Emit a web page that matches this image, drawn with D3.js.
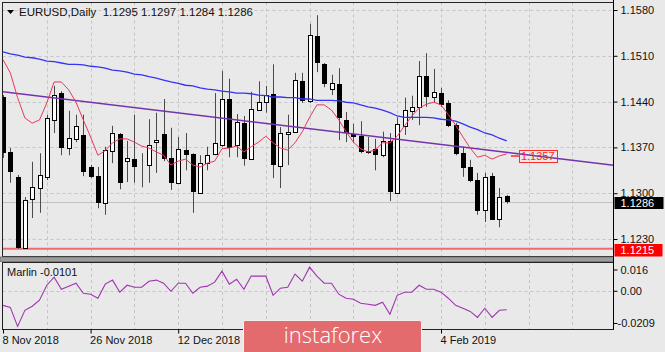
<!DOCTYPE html>
<html>
<head>
<meta charset="utf-8">
<script src="https://cdn.jsdelivr.net/npm/d3@7"></script>
<style>
  html, body { margin: 0; padding: 0; background: #e9e9e9; }
  svg { display: block; font-family: 'Liberation Sans', Arial, sans-serif; }
</style>
</head>
<body>
<div id="chart"></div>
<script>
// EURUSD daily bars, 8 Nov 2018 .. 15 Feb 2019
const opens = [1.1447, 1.1363, 1.1325, 1.1216, 1.1291, 1.1308, 1.1325, 1.1412, 1.1453, 1.1369,
  1.1383, 1.1389, 1.1340, 1.1326, 1.1285, 1.1365, 1.1390, 1.1349, 1.1352, 1.1341,
  1.1343, 1.1378, 1.1390, 1.1354, 1.1316, 1.1366, 1.1360, 1.1301, 1.1346, 1.1360,
  1.1374, 1.1444, 1.1374, 1.1407, 1.1352, 1.1427, 1.1440, 1.1452, 1.1342, 1.1391,
  1.1394, 1.1471, 1.1441, 1.1540, 1.1497, 1.1459, 1.1467, 1.1412, 1.1390, 1.1387,
  1.1363, 1.1368, 1.1358, 1.1380, 1.1300, 1.1403, 1.1426, 1.1432, 1.1479, 1.1447,
  1.1453, 1.1438, 1.1404, 1.1361, 1.1340, 1.1320, 1.1274, 1.1326, 1.1261, 1.1295]
const highs = [1.1450, 1.1369, 1.1328, 1.1294, 1.1348, 1.1361, 1.1420, 1.1464, 1.1456, 1.1426,
  1.1420, 1.1420, 1.1343, 1.1340, 1.1371, 1.1403, 1.1392, 1.1380, 1.1420, 1.1361,
  1.1413, 1.1423, 1.1444, 1.1400, 1.1386, 1.1392, 1.1361, 1.1358, 1.1371, 1.1453,
  1.1487, 1.1475, 1.1421, 1.1418, 1.1455, 1.1471, 1.1464, 1.1497, 1.1401, 1.1420,
  1.1484, 1.1484, 1.1559, 1.1572, 1.1499, 1.1481, 1.1491, 1.1424, 1.1406, 1.1410,
  1.1386, 1.1383, 1.1394, 1.1392, 1.1416, 1.1446, 1.1449, 1.1502, 1.1514, 1.1490,
  1.1461, 1.1442, 1.1407, 1.1371, 1.1351, 1.1331, 1.1331, 1.1331, 1.1308, 1.1297]
const lows = [1.1354, 1.1316, 1.1215, 1.1215, 1.1262, 1.1270, 1.1320, 1.1392, 1.1358, 1.1358,
  1.1378, 1.1326, 1.1323, 1.1277, 1.1267, 1.1346, 1.1306, 1.1317, 1.1316, 1.1309,
  1.1316, 1.1331, 1.1349, 1.1305, 1.1314, 1.1335, 1.1270, 1.1300, 1.1335, 1.1358,
  1.1371, 1.1355, 1.1355, 1.1342, 1.1351, 1.1426, 1.1423, 1.1323, 1.1308, 1.1343,
  1.1393, 1.1438, 1.1438, 1.1485, 1.1462, 1.1450, 1.1381, 1.1378, 1.1377, 1.1361,
  1.1360, 1.1335, 1.1355, 1.1288, 1.1300, 1.1389, 1.1412, 1.1404, 1.1432, 1.1439,
  1.1432, 1.1401, 1.1358, 1.1325, 1.1317, 1.1267, 1.1256, 1.1259, 1.1248, 1.1284]
const closes = [1.1361, 1.1332, 1.1216, 1.1290, 1.1309, 1.1328, 1.1415, 1.1450, 1.1369, 1.1384,
  1.1403, 1.1332, 1.1325, 1.1285, 1.1366, 1.1392, 1.1316, 1.1354, 1.1340, 1.1341,
  1.1374, 1.1381, 1.1352, 1.1316, 1.1368, 1.1358, 1.1302, 1.1346, 1.1358, 1.1377,
  1.1444, 1.1369, 1.1409, 1.1352, 1.1429, 1.1439, 1.1450, 1.1343, 1.1392, 1.1393,
  1.1473, 1.1441, 1.1542, 1.1499, 1.1467, 1.1468, 1.1415, 1.1392, 1.1386, 1.1363,
  1.1365, 1.1358, 1.1380, 1.1302, 1.1406, 1.1427, 1.1432, 1.1479, 1.1447, 1.1455,
  1.1435, 1.1403, 1.1360, 1.1339, 1.1319, 1.1273, 1.1325, 1.1259, 1.1294, 1.1286]

// moving averages (red = fast, blue = slow)
const maFast = [1.1504, 1.1484, 1.1446, 1.1415, 1.1407, 1.1412, 1.1438, 1.1470, 1.1470, 1.1458,
  1.1439, 1.1412, 1.1386, 1.1358, 1.1365, 1.1377, 1.1383, 1.1383, 1.1378, 1.1372,
  1.1369, 1.1363, 1.1358, 1.1343, 1.1349, 1.1352, 1.1343, 1.1340, 1.1346, 1.1349,
  1.1368, 1.1369, 1.1372, 1.1363, 1.1371, 1.1378, 1.1387, 1.1377, 1.1369, 1.1366,
  1.1377, 1.1394, 1.1416, 1.1435, 1.1435, 1.1427, 1.1412, 1.1394, 1.1378, 1.1368,
  1.1363, 1.1366, 1.1377, 1.1377, 1.1387, 1.1403, 1.1418, 1.1430, 1.1436, 1.1439,
  1.1435, 1.1420, 1.1404, 1.1386, 1.1369, 1.1355, 1.1358, 1.1352, 1.1357, 1.1360]
const maSlow = [1.1516, 1.1513, 1.1511, 1.1508, 1.1507, 1.1505, 1.1502, 1.1501, 1.1499, 1.1497,
  1.1497, 1.1496, 1.1494, 1.1493, 1.1491, 1.1488, 1.1487, 1.1485, 1.1482, 1.1481,
  1.1478, 1.1476, 1.1473, 1.1470, 1.1468, 1.1465, 1.1464, 1.1461, 1.1459, 1.1458,
  1.1456, 1.1455, 1.1453, 1.1453, 1.1452, 1.1450, 1.1449, 1.1447, 1.1447, 1.1446,
  1.1446, 1.1444, 1.1444, 1.1442, 1.1442, 1.1442, 1.1441, 1.1439, 1.1438, 1.1435,
  1.1432, 1.1430, 1.1427, 1.1423, 1.1418, 1.1416, 1.1416, 1.1416, 1.1416, 1.1415,
  1.1413, 1.1412, 1.1410, 1.1406, 1.1401, 1.1397, 1.1392, 1.1389, 1.1384, 1.1380]

// Marlin oscillator
const marlin = [-0.0077, -0.0088, -0.0192, -0.0104, -0.0082, -0.0049, 0.0033, 0.0077, 0.0011, 0.0028,
  0.0044, -0.0011, -0.0016, -0.0038, 0.0039, 0.0061, -0.0005, 0.0033, 0.0022, 0.0022,
  0.0055, 0.0061, 0.0044, 0.0000, 0.0044, 0.0044, -0.0011, 0.0022, 0.0028, 0.0050,
  0.0110, 0.0039, 0.0066, 0.0011, 0.0083, 0.0083, 0.0083, -0.0022, 0.0017, 0.0022,
  0.0094, 0.0055, 0.0132, 0.0083, 0.0044, 0.0044, -0.0016, -0.0038, -0.0044, -0.0066,
  -0.0071, -0.0077, -0.0060, -0.0126, -0.0022, -0.0005, -0.0005, 0.0033, 0.0011, 0.0011,
  -0.0005, -0.0038, -0.0077, -0.0093, -0.0110, -0.0143, -0.0093, -0.0143, -0.0104, -0.0101]

const priceTicks = [1.1580, 1.1510, 1.1440, 1.1370, 1.1300, 1.1230]
const marlinTicks = [0.016, 0, -0.0209]
const marlinTickLabels = ['0.016', '0.00', '-0.0209']
// labels under the watermark are not shown
const dateBars = [0, 12, 24, 60]
const dateLabels = ['8 Nov 2018', '26 Nov 2018', '12 Dec 2018', '4 Feb 2019']
const trendLine = [{ bar: 0, price: 1.1455 }, { bar: 70, price: 1.1361 }]
const trendLabel = 1.1357
const supportLevel = 1.1215
const lastPrice = 1.1286
const titleText = 'EURUSD,Daily  1.1295 1.1297 1.1284 1.1286'
const marlinTitle = 'Marlin -0.0101'

const width = 665
const height = 352
const left = 2.5
const right = 613.5
const mainTop = 2.5
const mainBottom = 256.5
const subTop = 262
const subBottom = 329.5

const svg = d3.select('#chart').append('svg').attr('width', width).attr('height', height)
svg.append('rect').attr('width', width).attr('height', height).attr('fill', '#e9e9e9')

// scales
const x = d3.scaleLinear().domain([0, 69]).range([3, 506.7])
const y = d3.scaleLinear().domain([1.1215, 1.1580]).range([248.8, 10])
const ys = d3.scaleLinear().domain([-0.0209, 0.016]).range([subBottom, subTop])
const px = i => Math.round(x(i))
const crisp = v => Math.round(v) + 0.5

svg.append('clipPath').attr('id', 'mainClip').append('rect')
  .attr('x', left + 0.5).attr('y', mainTop).attr('width', right - left - 0.5).attr('height', mainBottom - mainTop)
svg.append('clipPath').attr('id', 'subClip').append('rect')
  .attr('x', left + 0.5).attr('y', subTop).attr('width', right - left - 0.5).attr('height', subBottom - subTop)

const main = svg.append('g').attr('clip-path', 'url(#mainClip)')
const sub = svg.append('g').attr('clip-path', 'url(#subClip)')

// grid
const gridBars = d3.range(6, 84, 6)
main.selectAll('.vgrid').data(gridBars).join('line')
  .attr('x1', d => crisp(x(d))).attr('x2', d => crisp(x(d)))
  .attr('y1', mainTop).attr('y2', mainBottom)
  .attr('stroke', '#c4c4c4').attr('stroke-dasharray', '3,3')
main.selectAll('.hgrid').data(priceTicks).join('line')
  .attr('x1', left).attr('x2', right)
  .attr('y1', d => crisp(y(d))).attr('y2', d => crisp(y(d)))
  .attr('stroke', '#c4c4c4').attr('stroke-dasharray', '3,3')
sub.selectAll('.vgrid').data(gridBars).join('line')
  .attr('x1', d => crisp(x(d))).attr('x2', d => crisp(x(d)))
  .attr('y1', subTop).attr('y2', subBottom)
  .attr('stroke', '#c4c4c4').attr('stroke-dasharray', '3,3')
sub.append('line')
  .attr('x1', left).attr('x2', right)
  .attr('y1', crisp(ys(0))).attr('y2', crisp(ys(0)))
  .attr('stroke', '#c4c4c4').attr('stroke-dasharray', '3,3')

// bid line and support level
main.append('line').attr('x1', left).attr('x2', right)
  .attr('y1', crisp(y(lastPrice))).attr('y2', crisp(y(lastPrice)))
  .attr('stroke', '#c2c2c2')
main.append('line').attr('x1', left).attr('x2', right)
  .attr('y1', y(supportLevel)).attr('y2', y(supportLevel))
  .attr('stroke', '#f06b6b').attr('stroke-width', 2)

// candles
const bars = d3.range(opens.length)
const candle = main.selectAll('.candle').data(bars).join('g')
candle.append('line')
  .attr('x1', i => px(i) + 0.5).attr('x2', i => px(i) + 0.5)
  .attr('y1', i => y(highs[i])).attr('y2', i => y(lows[i]))
  .attr('stroke', '#4a4a4a')
candle.append('rect')
  .attr('x', i => closes[i] >= opens[i] ? px(i) - 1.5 : px(i) - 2)
  .attr('width', i => closes[i] >= opens[i] ? 4 : 5)
  .attr('y', i => {
    const t = Math.round(y(Math.max(opens[i], closes[i])))
    return closes[i] >= opens[i] ? t + 0.5 : t
  })
  .attr('height', i => {
    const h = Math.round(y(Math.min(opens[i], closes[i]))) - Math.round(y(Math.max(opens[i], closes[i])))
    return closes[i] >= opens[i] ? h : Math.max(h, 1)
  })
  .attr('fill', i => closes[i] >= opens[i] ? '#ffffff' : '#000000')
  .attr('stroke', i => closes[i] >= opens[i] ? '#000000' : 'none')
  .attr('stroke-width', 1)

// indicator lines
const lineOf = arr => d3.line().x((d, i) => x(i)).y(d => y(d))(arr)
main.append('path').attr('d', lineOf(maSlow))
  .attr('fill', 'none').attr('stroke', '#3434f5').attr('stroke-width', 1.3)
main.append('line')
  .attr('x1', x(trendLine[0].bar)).attr('y1', y(trendLine[0].price))
  .attr('x2', x(trendLine[1].bar)).attr('y2', y(trendLine[1].price))
  .attr('stroke', '#7433ad').attr('stroke-width', 1.5)
// extend trend line to the right edge
const slope = (trendLine[1].price - trendLine[0].price) / (trendLine[1].bar - trendLine[0].bar)
const barAtRight = x.invert(right)
main.append('line')
  .attr('x1', x(trendLine[1].bar)).attr('y1', y(trendLine[1].price))
  .attr('x2', right).attr('y2', y(trendLine[1].price + slope * (barAtRight - trendLine[1].bar)))
  .attr('stroke', '#7433ad').attr('stroke-width', 1.5)
main.append('path').attr('d', lineOf(maFast))
  .attr('fill', 'none').attr('stroke', '#e8385c').attr('stroke-width', 1)

// trend line price label
const labelBar = 73
const ly = y(trendLabel)
main.append('line').attr('x1', x(labelBar) - 25).attr('x2', x(labelBar) - 17)
  .attr('y1', ly).attr('y2', ly).attr('stroke', '#ff2a2a').attr('stroke-width', 1.5)
main.append('rect').attr('x', crisp(x(labelBar) - 17)).attr('y', crisp(ly - 6))
  .attr('width', 38).attr('height', 12)
  .attr('fill', 'none').attr('stroke', '#ff2a2a')
main.append('text').attr('x', x(labelBar) - 15).attr('y', ly + 4)
  .attr('font-size', 11).attr('fill', '#ff1f1f').text(trendLabel.toFixed(4))

// marlin line
sub.append('path')
  .attr('d', d3.line().x((d, i) => x(i)).y(d => ys(d))(marlin))
  .attr('fill', 'none').attr('stroke', '#a233b3').attr('stroke-width', 1.1)

// frames
svg.append('rect').attr('x', left).attr('y', mainTop).attr('width', right - left).attr('height', mainBottom - mainTop)
  .attr('fill', 'none').attr('stroke', '#222')
svg.append('rect').attr('x', 0).attr('y', 257).attr('width', right).attr('height', 4.5)
  .attr('fill', '#9c9c9c').attr('stroke', '#6c6c6c').attr('stroke-width', 0.8)
svg.append('rect').attr('x', left).attr('y', subTop + 0.5).attr('width', right - left).attr('height', subBottom - subTop - 0.5)
  .attr('fill', 'none').attr('stroke', '#222')

// price axis
const yAxis = d3.axisRight(y).tickValues(priceTicks).tickSize(4).tickPadding(3).tickFormat(d3.format('.4f'))
const yAxisG = svg.append('g').attr('transform', 'translate(' + right + ',0)').call(yAxis)
yAxisG.select('.domain').remove()
yAxisG.selectAll('line').attr('stroke', '#000')
yAxisG.selectAll('text').attr('font-size', 11).attr('fill', '#111').attr('font-family', 'Liberation Sans, Arial, sans-serif')

// marlin axis (end labels held inside the window)
const clampY = v => Math.min(subBottom - 6, Math.max(subTop + 8, ys(v)))
const sAxis = d3.axisRight(ys).tickValues(marlinTicks).tickSize(4).tickPadding(3).tickFormat((d, i) => marlinTickLabels[i])
const sAxisG = svg.append('g').attr('transform', 'translate(' + right + ',0)').call(sAxis)
sAxisG.select('.domain').remove()
sAxisG.selectAll('.tick').attr('transform', d => 'translate(0,' + clampY(d) + ')')
sAxisG.selectAll('line').attr('stroke', '#000')
sAxisG.selectAll('text').attr('font-size', 11).attr('fill', '#111').attr('font-family', 'Liberation Sans, Arial, sans-serif')
sAxisG.selectAll('.tick').filter(d => d < 0).select('text').attr('dx', -3)

svg.append('line').attr('x1', right).attr('x2', right).attr('y1', 0).attr('y2', subBottom)
  .attr('stroke', '#000')

// date axis
const xAxis = d3.axisBottom(x).tickValues(dateBars).tickSize(4).tickPadding(3).tickFormat((d, i) => dateLabels[i])
const xAxisG = svg.append('g').attr('transform', 'translate(0,' + subBottom + ')').call(xAxis)
xAxisG.select('.domain').remove()
xAxisG.selectAll('line').attr('stroke', '#000')
xAxisG.selectAll('text').attr('text-anchor', 'start').attr('dx', -1).attr('font-size', 11).attr('fill', '#111')
  .attr('font-family', 'Liberation Sans, Arial, sans-serif')

// price markers on the axis
const bidY = y(lastPrice)
svg.append('rect').attr('x', right + 1).attr('y', Math.round(bidY) - 5).attr('width', 49).attr('height', 12).attr('fill', '#000')
svg.append('text').attr('x', right + 7).attr('y', bidY + 5).attr('font-size', 11).attr('fill', '#fff').text(lastPrice.toFixed(4))
const supY = y(supportLevel)
svg.append('rect').attr('x', right + 1).attr('y', Math.round(supY) - 5).attr('width', 48).attr('height', 12.5).attr('fill', '#ff0000')
svg.append('text').attr('x', right + 7).attr('y', supY + 5).attr('font-size', 11).attr('fill', '#fff').text(supportLevel.toFixed(4))

// titles
svg.append('path').attr('d', 'M7,10 L14,10 L10.5,14 Z').attr('fill', '#000')
svg.append('text').attr('x', 19).attr('y', 16).attr('font-size', 11.5).attr('fill', '#111')
  .style('white-space', 'pre').text(titleText)
svg.append('text').attr('x', 7).attr('y', 276).attr('font-size', 11).attr('fill', '#111').text(marlinTitle)

// watermark
const logo = svg.append('g')
logo.append('rect').attr('x', 243.5).attr('y', 320.5).attr('width', 178).attr('height', 36).attr('rx', 2)
  .attr('fill', '#e36b6e').attr('stroke', '#f4f0f0')
logo.append('text').attr('x', 333).attr('y', 342.5).attr('text-anchor', 'middle')
  .attr('font-family', 'Open Sans, Roboto, sans-serif').attr('font-weight', 300)
  .attr('font-size', 22).attr('fill', '#ffffff').text('instaforex')
</script>
</body>
</html>
